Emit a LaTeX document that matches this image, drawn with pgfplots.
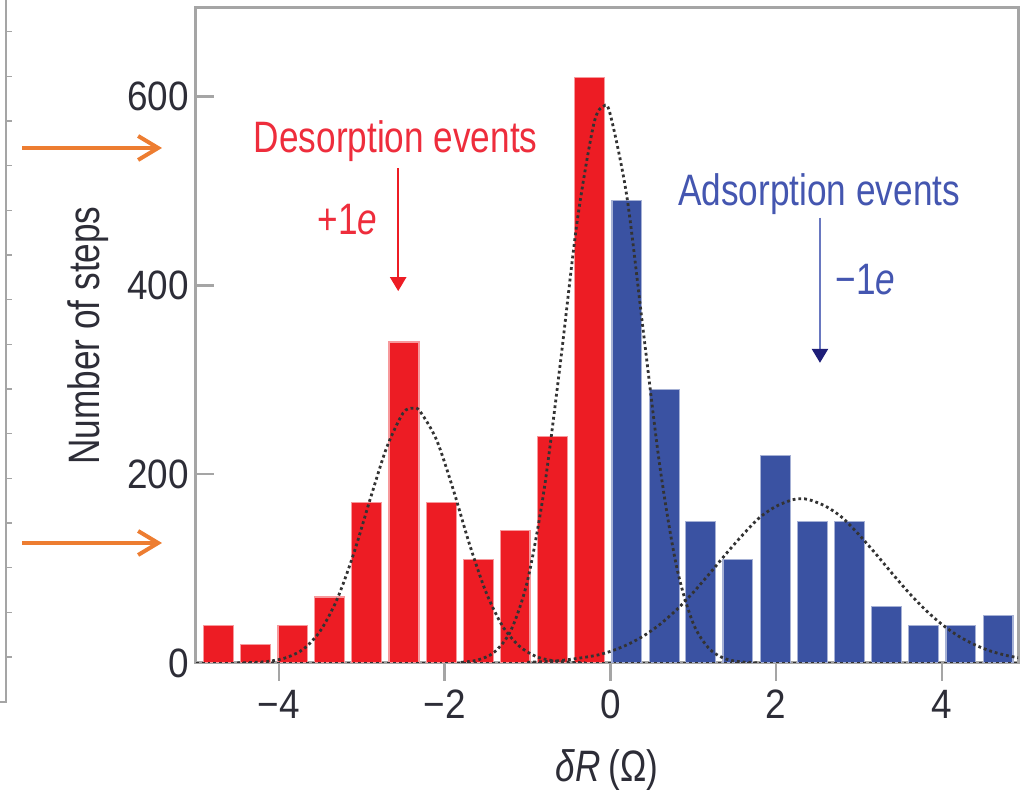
\documentclass[border=0pt]{standalone}
\usepackage{pgfplots}
\pgfplotsset{compat=1.18}
\usepackage{fontspec}
\setmainfont{Liberation Sans}[FakeStretch=0.80]
\newfontfamily\tickfont{Liberation Sans}[FakeStretch=0.90]
\usetikzlibrary{arrows.meta}
\definecolor{barred}{RGB}{237,28,36}
\definecolor{barblue}{RGB}{58,82,162}
\definecolor{txtred}{RGB}{238,45,60}
\definecolor{txtblue}{RGB}{68,86,176}
\definecolor{navy}{RGB}{30,30,120}
\definecolor{orng}{RGB}{237,125,49}
\definecolor{framegray}{RGB}{165,165,165}
\definecolor{ticktext}{RGB}{45,45,55}
\begin{document}
\begin{tikzpicture}
\path[use as bounding box] (0pt,0pt) rectangle (512pt,395pt);
% partial neighbouring panel at the left edge
\draw[framegray, line width=1pt] (3pt,395pt) -- (3pt,44pt) -- (0pt,44pt);
\foreach \yy in {379.2,356.8,334.5,312.2,289.8,267.5,245.2,222.8,200.5,178.2,155.8,133.5,111.2,88.8,66.5}
  \draw[framegray, line width=0.8pt] (3pt,\yy pt) -- (6pt,\yy pt);
% orange arrows
\draw[orng, line width=2pt, -{Straight Barb[length=10pt,width=12pt,line width=2pt]}] (11pt,321pt) -- (81pt,321pt);
\draw[orng, line width=2pt, -{Straight Barb[length=10pt,width=12pt,line width=2pt]}] (11pt,123.5pt) -- (81pt,123.5pt);
\begin{axis}[
  at={(98pt,63.5pt)}, anchor=south west,
  width=411pt, height=327.5pt, scale only axis,
  xmin=-5, xmax=4.92, ymin=0, ymax=694,
  axis line style={framegray, line width=1.5pt},
  tick style={framegray, line width=1.2pt},
  major tick length=9pt,
  tick align=inside,
  x tick style={yshift=-9pt},
  xtick pos=bottom, ytick pos=left,
  xtick={-4,-2,0,2,4}, xticklabels={−4,−2,0,2,4},
  ytick={0,200,400,600}, yticklabels={0,200,400,600},
  ticklabel style={font=\tickfont\fontsize{20.5pt}{24pt}\selectfont, text=ticktext},
  xticklabel style={yshift=-10pt},
  xlabel={{\itshape δR}\,(Ω)},
  ylabel={Number of steps},
  label style={font=\fontsize{22pt}{26pt}\selectfont, text=ticktext},
  xlabel style={at={(axis description cs:0.5,-0.1634)}, anchor=center},
  ylabel style={at={(axis description cs:-0.131,0.5)}, anchor=center},
  clip=true,
]
% desorption (red) histogram
\addplot[ybar, bar width=0.36, bar shift=0pt, fill=barred, draw=barred!45, line width=0.6pt]
  coordinates {(-4.73,40) (-4.28,20) (-3.83,40) (-3.39,70) (-2.94,170) (-2.49,340)
               (-2.04,170) (-1.59,110) (-1.15,140) (-0.70,240) (-0.25,620)};
% adsorption (blue) histogram
\addplot[ybar, bar width=0.36, bar shift=0pt, fill=barblue, draw=barblue!45, line width=0.6pt]
  coordinates {(0.20,490) (0.65,290) (1.09,150) (1.54,110) (1.99,220) (2.44,150)
               (2.89,150) (3.33,60) (3.78,40) (4.23,40) (4.68,50)};
% dotted baseline and fitted curves
\addplot[black!80, line width=1.4pt, dash pattern=on 1.4pt off 1.5pt] coordinates {(-5,0) (4.92,0)};
\addplot[black!80, line width=1.4pt, dash pattern=on 1.4pt off 1.5pt, smooth]
  coordinates {(-4.5,0.2) (-4.3,0.6) (-4.1,2) (-3.9,6) (-3.7,15) (-3.5,34) (-3.3,67)
               (-3.1,115) (-2.9,173) (-2.7,228) (-2.5,265) (-2.38,270) (-2.3,267)
               (-2.1,237) (-1.9,185) (-1.7,126) (-1.5,75) (-1.3,39) (-1.1,18)
               (-0.9,7) (-0.7,2.5) (-0.5,0.8) (-0.3,0.2)};
\addplot[black!80, line width=1.4pt, dash pattern=on 1.4pt off 1.5pt, smooth]
  coordinates {(-1.8,0.7) (-1.6,3.2) (-1.4,11.5) (-1.2,34.5) (-1.0,87) (-0.8,183)
               (-0.6,320) (-0.4,468) (-0.2,571) (-0.08,590) (0.0,581) (0.2,494)
               (0.4,350) (0.6,207) (0.8,102) (1.0,42) (1.2,14.5) (1.4,4.1) (1.6,1.0) (1.8,0.2)};
\addplot[black!80, line width=1.4pt, dash pattern=on 1.4pt off 1.5pt, smooth]
  coordinates {(-1.0,0.8) (-0.6,2.6) (-0.2,7.6) (0.0,12.3) (0.2,19.2) (0.4,28.6)
               (0.6,41) (0.8,56.5) (1.0,74.7) (1.2,95) (1.4,116) (1.6,136) (1.8,154)
               (2.0,166) (2.2,173) (2.3,174) (2.4,173) (2.6,166) (2.8,154) (3.0,136)
               (3.2,116) (3.4,95) (3.6,74.7) (3.8,56.5) (4.0,41) (4.2,28.6)
               (4.4,19.2) (4.6,12.3) (4.8,7.6) (5.0,4.5)};
% annotations
\node[anchor=base, text=txtred, font=\fontsize{22pt}{26pt}\selectfont] at (axis cs:-2.59,541) {Desorption events};
\node[anchor=base, text=txtred, font=\fontsize{22pt}{26pt}\selectfont] at (axis cs:-3.17,454) {+1{\itshape e}};
\draw[barred, line width=1.2pt, -{Triangle[length=7pt,width=8pt]}] (axis cs:-2.56,524) -- (axis cs:-2.56,394);
\node[anchor=base, text=txtblue, font=\fontsize{22pt}{26pt}\selectfont] at (axis cs:2.52,485) {Adsorption events};
\node[anchor=base, text=txtblue, font=\fontsize{22pt}{26pt}\selectfont] at (axis cs:3.08,390) {−1{\itshape e}};
\draw[txtblue!80!white, line width=1.2pt, -{Triangle[length=7pt,width=8pt,color=navy,fill=navy]}] (axis cs:2.53,472) -- (axis cs:2.53,318);
\end{axis}
\end{tikzpicture}
\end{document}
